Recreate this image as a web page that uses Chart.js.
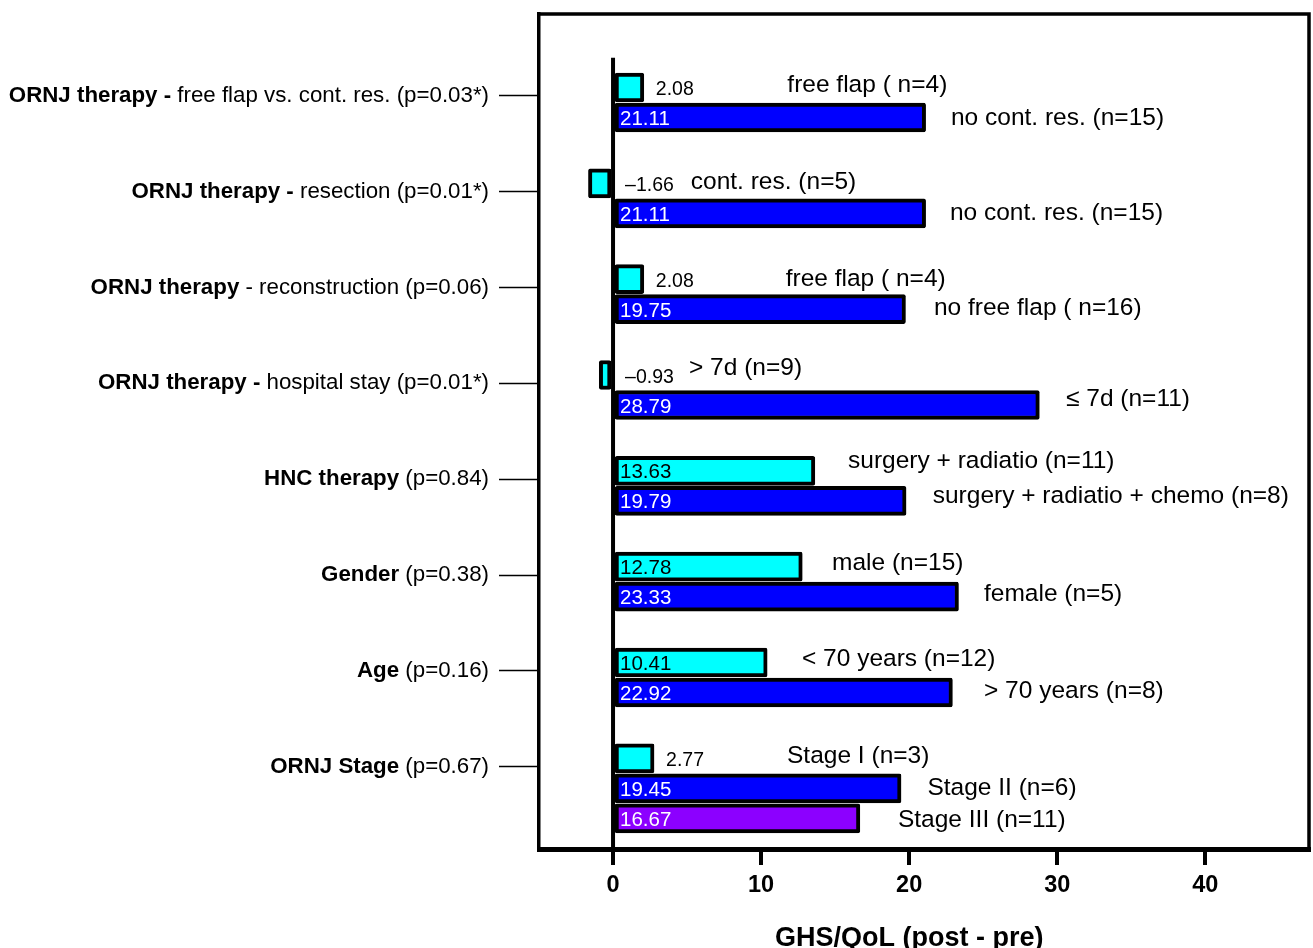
<!DOCTYPE html>
<html>
<head>
<meta charset="utf-8">
<script src="https://cdn.jsdelivr.net/npm/chart.js@4"></script>
<style>
  html, body { margin: 0; padding: 0; background: #fff; overflow: hidden; }
  canvas { display: block; }
</style>
</head>
<body>
<canvas id="c" width="1313" height="948"></canvas>
<script>
// ---------------- DATA ----------------
const labelBold = ['ORNJ therapy - ', 'ORNJ therapy - ', 'ORNJ therapy', 'ORNJ therapy -', 'HNC therapy', 'Gender', 'Age', 'ORNJ Stage'];
const labelRest = ['free flap vs. cont. res. (p=0.03*)', 'resection (p=0.01*)', ' - reconstruction (p=0.06)', ' hospital stay (p=0.01*)', ' (p=0.84)', ' (p=0.38)', ' (p=0.16)', ' (p=0.67)'];

const cyanValues   = [2.08, -1.66, 2.08, -0.93, 13.63, 12.78, 10.41, 2.77];
const blueValues   = [21.11, 21.11, 19.75, 28.79, 19.79, 23.33, 22.92, 19.45];
const purpleValues = [null, null, null, null, null, null, null, 16.67];

const cyanNames   = ['free flap ( n=4)', 'cont. res. (n=5)', 'free flap ( n=4)', '> 7d (n=9)', 'surgery + radiatio (n=11)', 'male (n=15)', '< 70 years (n=12)', 'Stage I (n=3)'];
const blueNames   = ['no cont. res. (n=15)', 'no cont. res. (n=15)', 'no free flap ( n=16)', '\u2264 7d (n=11)', 'surgery + radiatio + chemo (n=8)', 'female (n=5)', '> 70 years (n=8)', 'Stage II (n=6)'];
const purpleNames = [null, null, null, null, null, null, null, 'Stage III (n=11)'];

const xTicks = [0, 10, 20, 30, 40];
const xTitle = 'GHS/QoL (post - pre)';

// ---------------- LAYOUT (not data) ----------------
const BAR_STEP = 0.313;        // offset between bars within a group (group units)
const TICK_OFFSET = 0.088;     // category tick position relative to first bar
const ZERO_TOP = -0.31;        // top end of the zero line (group units)
// series-name label anchors, x in value units, dy in px (baseline from bar centre)
const nameLayout = [
  { x: [11.77, 5.25, 11.66, 5.13, 15.87, 14.79, 12.76, 11.75], dy: [4.5, 6, 6.5, 0, -3, 3, 3.5, 4.7] },
  { x: [22.82, 22.75, 21.67, 30.59, 21.59, 25.05, 25.05, 21.23], dy: [7, 7, 5.5, 1, 2, 4.5, 5.5, 7] },
  { x: [null, null, null, null, null, null, null, 19.24], dy: [0, 0, 0, 0, 0, 0, 0, 9] }
];

const FONT = "'Liberation Sans', Arial, Helvetica, sans-serif";
const seriesValues = [cyanValues, blueValues, purpleValues];
const seriesNames = [cyanNames, blueNames, purpleNames];
const seriesColors = ['#00ffff', '#0000ff', '#8c00ff'];
const insideTextColors = ['#000000', '#ffffff', '#ffffff'];

function toPoints(values, s) {
  const pts = [];
  values.forEach((v, g) => { if (v !== null) pts.push({ x: v, y: g + s * BAR_STEP, g: g }); });
  return pts;
}

const datasets = seriesValues.map((vals, s) => ({
  data: toPoints(vals, s),
  backgroundColor: seriesColors[s],
  borderColor: '#000000',
  borderWidth: 4,
  borderRadius: 2,
  borderSkipped: false,
  barThickness: 29,
  grouped: false
}));

function fmt(v) {
  const s = Math.abs(v).toFixed(2);
  return v < 0 ? '\u2013' + s : s;
}

const overlay = {
  id: 'overlay',
  afterDatasetsDraw(chart) {
    const { ctx, chartArea: a, scales: { x, y } } = chart;
    ctx.save();
    // frame: top and right
    ctx.strokeStyle = '#000';
    ctx.lineWidth = 3.5;
    ctx.beginPath();
    ctx.moveTo(a.left - 1.75, a.top);
    ctx.lineTo(a.right, a.top);
    ctx.lineTo(a.right, a.bottom);
    ctx.stroke();

    // zero line
    const x0 = x.getPixelForValue(0);
    ctx.lineWidth = 4;
    ctx.beginPath();
    ctx.moveTo(x0, y.getPixelForValue(ZERO_TOP));
    ctx.lineTo(x0, a.bottom);
    ctx.stroke();

    // value labels and series names
    chart.data.datasets.forEach((ds, s) => {
      const meta = chart.getDatasetMeta(s);
      meta.data.forEach((el, i) => {
        const pt = ds.data[i];
        const v = pt.x;
        const g = pt.g;
        ctx.textAlign = 'left';
        ctx.textBaseline = 'alphabetic';
        if (Math.abs(v) > 5) {
          ctx.font = '20.5px ' + FONT;
          ctx.fillStyle = insideTextColors[s];
          ctx.fillText(fmt(v), x0 + 7, el.y + 7.5);
        } else {
          ctx.font = '19.5px ' + FONT;
          ctx.fillStyle = '#000';
          ctx.fillText(fmt(v), x.getPixelForValue(Math.max(v, 0)) + 12, el.y + 7.5);
        }
        const name = seriesNames[s][g];
        if (name) {
          ctx.font = '24.5px ' + FONT;
          ctx.fillStyle = '#000';
          ctx.fillText(name, x.getPixelForValue(nameLayout[s].x[g]), el.y + nameLayout[s].dy[g]);
        }
      });
    });

    // category labels (bold + normal), right aligned before the tick marks
    const right = a.left - 40 - 10;
    y.ticks.forEach((t, g) => {
      const ty = y.getPixelForTick(g);
      ctx.textBaseline = 'alphabetic';
      ctx.textAlign = 'right';
      ctx.fillStyle = '#000';
      ctx.font = '22.3px ' + FONT;
      const restW = ctx.measureText(labelRest[g]).width;
      ctx.fillText(labelRest[g], right, ty + 6);
      ctx.font = 'bold 22.3px ' + FONT;
      ctx.fillText(labelBold[g], right - restW, ty + 6);
    });

    // axis title, centred over the tick range
    const cx = (x.getPixelForValue(xTicks[0]) + x.getPixelForValue(xTicks[xTicks.length - 1])) / 2;
    ctx.font = 'bold 27px ' + FONT;
    ctx.textAlign = 'center';
    ctx.fillStyle = '#000';
    ctx.fillText(xTitle, cx, 946);
    ctx.restore();
  }
};

new Chart(document.getElementById('c'), {
  type: 'bar',
  data: { datasets: datasets },
  options: {
    indexAxis: 'y',
    responsive: false,
    animation: false,
    devicePixelRatio: 1,
    layout: { padding: { top: 14, right: 4, left: 0, bottom: 0 } },
    plugins: { legend: { display: false }, tooltip: { enabled: false } },
    scales: {
      x: {
        type: 'linear',
        position: 'bottom',
        min: -5,
        max: 47,
        offset: false,
        afterBuildTicks: s => { s.ticks = xTicks.map(v => ({ value: v })); },
        afterFit: s => { s.height = 99; },
        border: { display: true, color: '#000', width: 5 },
        grid: { display: true, offset: false, drawOnChartArea: false, drawTicks: true, tickLength: 16, tickWidth: 4, tickColor: '#000', color: '#000', lineWidth: 4 },
        ticks: { color: '#000', font: { family: FONT, size: 23.5, weight: 'bold' }, padding: 6, maxRotation: 0, autoSkip: false }
      },
      y: {
        type: 'linear',
        reverse: true,
        offset: false,
        min: -0.767,
        max: 7.946,
        afterBuildTicks: s => { s.ticks = labelBold.map((_, g) => ({ value: g + TICK_OFFSET })); },
        afterFit: s => { s.width = 539; },
        border: { display: true, color: '#000', width: 3.5 },
        grid: { display: true, offset: false, drawOnChartArea: false, drawTicks: true, tickLength: 40, tickWidth: 1.7, tickColor: '#000', color: '#000' },
        ticks: { display: false }
      }
    }
  },
  plugins: [overlay]
});
</script>
</body>
</html>
